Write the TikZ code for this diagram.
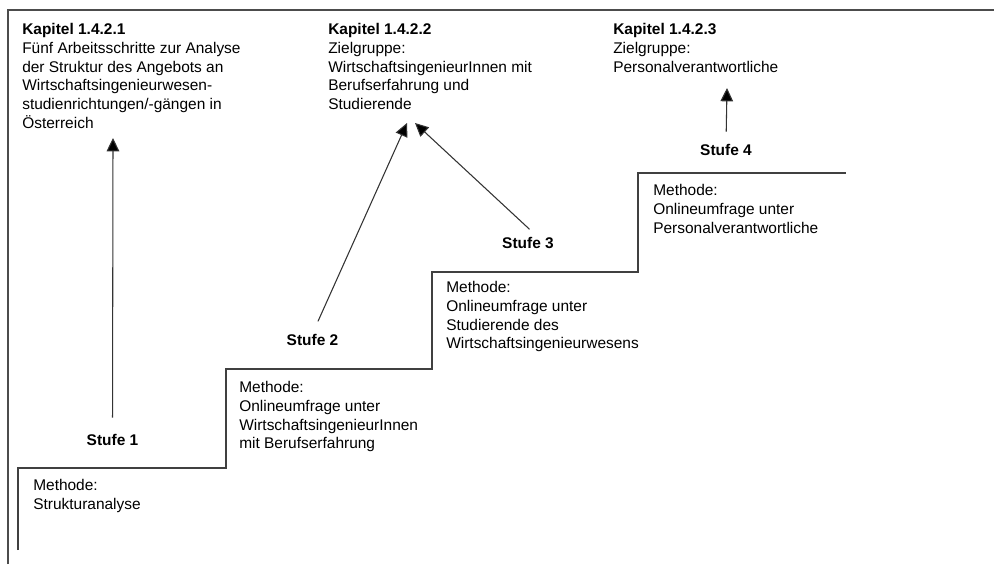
\documentclass[tikz,border=0pt]{standalone}
\usepackage{fontspec}
\setmainfont{Liberation Sans}
\usetikzlibrary{arrows.meta}

\begin{document}
\begin{tikzpicture}[x=0.75pt,y=0.75pt,yscale=-1,xscale=1,
    txt/.style={anchor=north west,inner sep=0pt,align=left,font=\fontsize{11.6}{14.1}\selectfont},
    stufe/.style={anchor=base,inner sep=0pt,font=\fontsize{11.6}{14.1}\selectfont\bfseries},
    pfeil/.style={draw=black!80,line width=0.8pt,-{Triangle[length=10pt,width=9.5pt,fill=black]}},
    treppe/.style={draw=black!75,line width=1pt},
    rahmen/.style={draw=black!70,line width=1.7pt}]
    \useasboundingbox (0,0) rectangle (994,564);

    %Frame
    \draw [rahmen] (8,564) -- (8,10) -- (994,10) ;
    %Stairs
    \draw [treppe] (18,550) -- (18,468) -- (226,468) -- (226,369) -- (432,369)
        -- (432,272) -- (638,272) -- (638,173) -- (846,173) ;

    % Text Node
    \node (kap1) [txt] at (22,23) {\textbf{Kapitel 1.4.2.1}\\Fünf Arbeitsschritte zur Analyse\\der Struktur des Angebots an\\Wirtschaftsingenieurwesen-\\studienrichtungen/-gängen in\\Österreich};
    % Text Node
    \node (kap2) [txt] at (328,23) {\textbf{Kapitel 1.4.2.2}\\Zielgruppe:\\WirtschaftsingenieurInnen mit\\Berufserfahrung und\\Studierende};
    % Text Node
    \node (kap3) [txt] at (613,23) {\textbf{Kapitel 1.4.2.3}\\Zielgruppe:\\Personalverantwortliche};

    % Text Node
    \node (meth1) [txt] at (33,479) {Methode:\\Strukturanalyse};
    % Text Node
    \node (meth2) [txt] at (239,381) {Methode:\\Onlineumfrage unter\\WirtschaftsingenieurInnen\\mit Berufserfahrung};
    % Text Node
    \node (meth3) [txt] at (446,281) {Methode:\\Onlineumfrage unter\\Studierende des\\Wirtschaftsingenieurwesens};
    % Text Node
    \node (meth4) [txt] at (653,184) {Methode:\\Onlineumfrage unter\\Personalverantwortliche};

    % Text Node
    \node (stufe1) [stufe] at (112.5,445) {Stufe 1};
    \node (stufe2) [stufe] at (312.5,345) {Stufe 2};
    \node (stufe3) [stufe] at (528,248) {Stufe 3};
    \node (stufe4) [stufe] at (726,155) {Stufe 4};

    %Arrow ends
    \coordinate (ziel1) at (113,138);
    \coordinate (ziel2) at (407,123);
    \coordinate (ziel3) at (415,123);
    \coordinate (ziel4) at (727,88);

    %Arrows
    \draw [pfeil,shorten <=12pt] (stufe1.north) -- (ziel1) ;
    \draw [pfeil,shorten <=10pt] (stufe2.north) -- (ziel2) ;
    \draw [pfeil,shorten <=8pt] ([xshift=7pt]stufe3.north) -- (ziel3) ;
    \draw [pfeil,shorten <=9pt] (stufe4.north) -- (ziel4) ;

\end{tikzpicture}
\end{document}
